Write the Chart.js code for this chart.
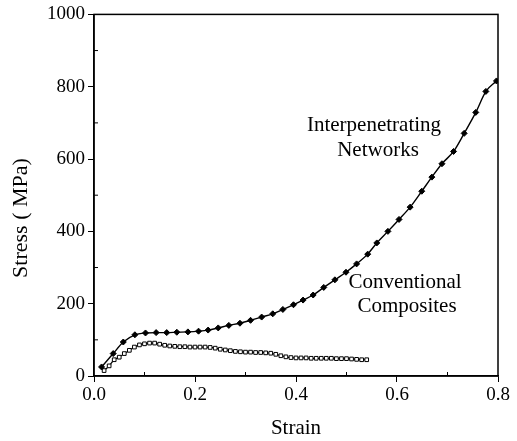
<!DOCTYPE html>
<html><head><meta charset="utf-8">
<script src="https://cdn.jsdelivr.net/npm/chart.js@4"></script>
<style>html,body{margin:0;padding:0;background:#fff}</style>
</head><body>
<canvas id="c" width="517" height="441"></canvas>
<script>
const ipnStrain = [0.015,0.038,0.058,0.081,0.102,0.123,0.144,0.164,0.186,0.207,0.226,0.246,0.267,0.289,0.310,0.332,0.354,0.374,0.395,0.414,0.434,0.455,0.477,0.499,0.520,0.542,0.560,0.582,0.604,0.626,0.649,0.669,0.689,0.712,0.733,0.756,0.776,0.797];
const ipnStress = [25,62,94,114,119,120,120,121,122,124,127,133,140,146,154,163,172,184,197,210,224,245,266,287,310,337,368,400,433,467,511,550,587,621,671,729,787,816];
const ccStrain = [0.02,0.03,0.04,0.05,0.06,0.07,0.08,0.09,0.10,0.11,0.12,0.13,0.14,0.15,0.16,0.17,0.18,0.19,0.20,0.21,0.22,0.23,0.24,0.25,0.26,0.27,0.28,0.29,0.30,0.31,0.32,0.33,0.34,0.35,0.36,0.37,0.38,0.39,0.40,0.41,0.42,0.43,0.44,0.45,0.46,0.47,0.48,0.49,0.50,0.51,0.52,0.53,0.54];
const ccStress = [15,28,45,52,62,71,80,86,89,91,91,88,85,83,82,81,81,80,80,80,80,79,77,74,72,70,68,67,66,66,65,65,64,63,60,56,53,51,50,50,50,49,49,49,49,49,48,48,48,47,46,45,45];
const xMinorTicks = [0.1,0.3,0.5,0.7];
const yMinorTicks = [100,300,500,700,900];
const xTitle = 'Strain';
const yTitle = 'Stress ( MPa)';
const labelIPN = ['Interpenetrating','Networks'];
const labelCC = ['Conventional','Composites'];

const FONT = '"Liberation Serif", "Times New Roman", serif';

const extras = {
  id: 'extras',
  afterDraw(chart) {
    const {ctx, chartArea: a, scales: {x, y}} = chart;
    ctx.save();
    ctx.strokeStyle = '#000';
    ctx.lineWidth = 1.5;
    ctx.strokeRect(a.left, a.top, a.right - a.left, a.bottom - a.top);
    ctx.lineWidth = 1;
    ctx.beginPath();
    xMinorTicks.forEach(v => { const px = x.getPixelForValue(v); ctx.moveTo(px, a.bottom); ctx.lineTo(px, a.bottom - 4); });
    yMinorTicks.forEach(v => { const py = y.getPixelForValue(v); ctx.moveTo(a.left, py); ctx.lineTo(a.left + 4, py); });
    ctx.stroke();
    ctx.fillStyle = '#000';
    ctx.textAlign = 'center';
    ctx.textBaseline = 'middle';
    ctx.font = '21px ' + FONT;
    ctx.fillText(xTitle, (a.left + a.right) / 2, 428);
    ctx.fillText(labelIPN[0], 374, 125);
    ctx.fillText(labelIPN[1], 378, 150);
    ctx.fillText(labelCC[0], 405, 282);
    ctx.fillText(labelCC[1], 407, 306);
    ctx.font = '22px ' + FONT;
    ctx.translate(21, 218);
    ctx.rotate(-Math.PI / 2);
    ctx.fillText(yTitle, 0, 0);
    ctx.restore();
  }
};

new Chart(document.getElementById('c'), {
  type: 'scatter',
  data: {
    datasets: [
      {
        label: 'Interpenetrating Networks',
        data: ipnStrain.map((s, i) => ({x: s, y: ipnStress[i]})),
        showLine: true,
        borderColor: '#000',
        borderWidth: 1.4,
        backgroundColor: '#000',
        pointStyle: 'rectRot',
        pointRadius: 3,
        pointBorderWidth: 1,
        cubicInterpolationMode: 'monotone'
      },
      {
        label: 'Conventional Composites',
        data: ccStrain.map((s, i) => ({x: s, y: ccStress[i]})),
        showLine: true,
        borderColor: '#000',
        borderWidth: 1.2,
        backgroundColor: '#fff',
        pointBackgroundColor: '#fff',
        pointBorderColor: '#000',
        pointStyle: 'rect',
        pointRadius: 2.6,
        pointBorderWidth: 1,
        cubicInterpolationMode: 'monotone'
      }
    ]
  },
  options: {
    responsive: false,
    animation: false,
    layout: {padding: {top: 12, right: 19, left: 0, bottom: 0}},
    plugins: {legend: {display: false}, tooltip: {enabled: false}},
    scales: {
      x: {
        type: 'linear', min: 0, max: 0.8,
        afterFit: s => { s.height = 65; },
        border: {display: true, color: '#000', width: 1.5},
        grid: {drawOnChartArea: false, drawTicks: true, tickLength: 6, color: '#000', lineWidth: 1},
        ticks: {stepSize: 0.2, color: '#000', padding: 2, font: {family: FONT, size: 19},
          callback: v => Number(v).toFixed(1)}
      },
      y: {
        type: 'linear', min: 0, max: 1000,
        afterFit: s => { s.width = 94; },
        border: {display: true, color: '#000', width: 1.5},
        grid: {drawOnChartArea: false, drawTicks: true, tickLength: 6, color: '#000', lineWidth: 1},
        ticks: {stepSize: 200, color: '#000', padding: 3, font: {family: FONT, size: 19},
          callback: v => String(v)}
      }
    }
  },
  plugins: [extras]
});
</script>
</body></html>
